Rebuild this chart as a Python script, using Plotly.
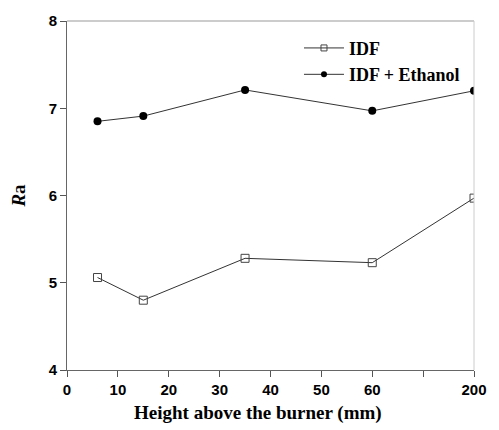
import plotly.graph_objects as go

# Measurement heights above the burner (mm) and Ra values
heights = [6, 15, 35, 60, 200]
ra_idf = [5.06, 4.80, 5.28, 5.23, 5.97]
ra_idf_ethanol = [6.85, 6.91, 7.21, 6.97, 7.20]

x_tick_values = [0, 10, 20, 30, 40, 50, 60, 70, 80]
x_tick_labels = ["0", "10", "20", "30", "40", "50", "60", "", "200"]
y_tick_values = [4, 5, 6, 7, 8]


def axis_position(h):
    # Broken x axis: linear up to 60 mm, the 200 mm station sits at slot 80
    return h if h <= 60 else 80


xpos = [axis_position(h) for h in heights]

line_color = "#333333"
serif = "Liberation Serif"
sans = "Liberation Sans"

fig = go.Figure()

fig.add_trace(go.Scatter(
    x=xpos, y=ra_idf, mode="lines+markers", showlegend=False,
    line=dict(color=line_color, width=1),
    marker=dict(symbol="square-open", size=8, color="#444444",
                line=dict(width=1, color="#444444")),
))
fig.add_trace(go.Scatter(
    x=xpos, y=ra_idf_ethanol, mode="lines+markers", showlegend=False,
    line=dict(color=line_color, width=1),
    marker=dict(symbol="circle", size=8, color="black"),
))

# Legend entries with smaller sample markers
fig.add_trace(go.Scatter(
    x=[None], y=[None], mode="lines+markers", name="IDF",
    line=dict(color=line_color, width=1),
    marker=dict(symbol="square-open", size=6, color="#444444",
                line=dict(width=1, color="#444444")),
))
fig.add_trace(go.Scatter(
    x=[None], y=[None], mode="lines+markers", name="IDF + Ethanol",
    line=dict(color=line_color, width=1),
    marker=dict(symbol="circle", size=6, color="black"),
))

fig.update_layout(
    width=499, height=430,
    margin=dict(l=67, r=14, t=19, b=60),
    paper_bgcolor="white", plot_bgcolor="white",
    legend=dict(
        x=0.57, y=0.975, xanchor="left", yanchor="top",
        bgcolor="rgba(0,0,0,0)", itemwidth=40, tracegroupgap=0,
        font=dict(family=serif, size=18, color="black", weight="bold"),
    ),
    xaxis=dict(
        range=[0, 80], tickmode="array", tickvals=x_tick_values,
        ticktext=x_tick_labels, ticks="outside", ticklen=6, tickwidth=1,
        tickcolor="#555555", showgrid=False, zeroline=False,
        showline=True, linecolor="#666666", linewidth=1, mirror=False,
        tickfont=dict(family=sans, size=15, color="black", weight="bold"),
    ),
    yaxis=dict(
        range=[4, 8], tickmode="array", tickvals=y_tick_values,
        ticks="outside", ticklen=6, tickwidth=1, tickcolor="#555555",
        showgrid=False, zeroline=False,
        showline=True, linecolor="#666666", linewidth=1, mirror=False,
        tickfont=dict(family=sans, size=15, color="black", weight="bold"),
        title=dict(text="<i>R</i>a", standoff=18,
                   font=dict(family=serif, size=19, color="black", weight="bold")),
    ),
)

# x-axis title, set slightly left of the plot centre
fig.add_annotation(
    text="Height above the burner (mm)", xref="paper", yref="paper",
    x=0.469, y=-0.122, xanchor="center", yanchor="middle", showarrow=False,
    font=dict(family=serif, size=19, color="black", weight="bold"),
)

# Light frame on the top and right edges
fig.add_shape(type="line", xref="paper", yref="paper", x0=0, x1=1, y0=1, y1=1,
              line=dict(color="#999999", width=1))
fig.add_shape(type="line", xref="paper", yref="paper", x0=1, x1=1, y0=0, y1=1,
              line=dict(color="#cccccc", width=1))

fig.write_html("out.html")
